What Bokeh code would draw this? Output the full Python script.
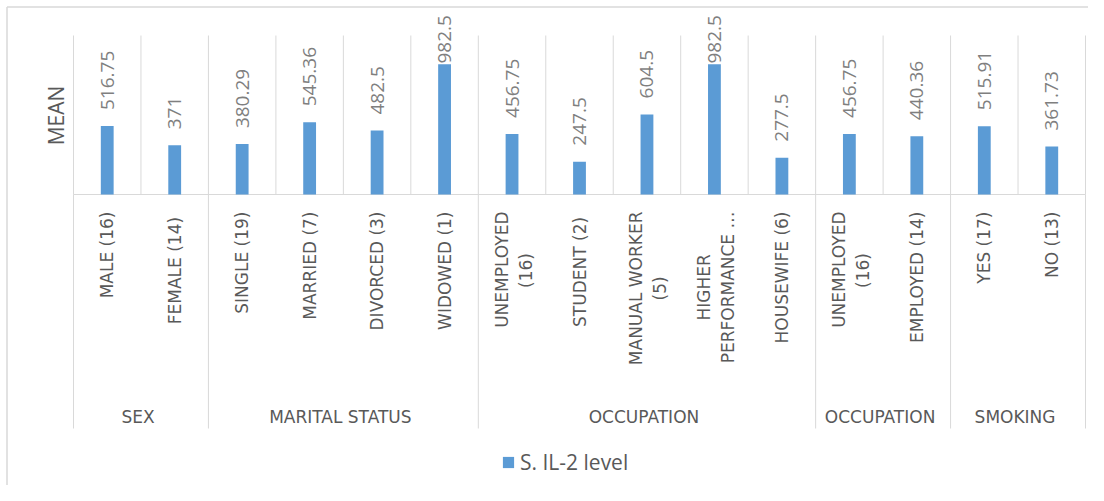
import math
from bokeh.plotting import figure
from bokeh.models import Range1d, ColumnDataSource
from bokeh.core.properties import value
from bokeh.embed import file_html
from bokeh.resources import INLINE

# ---------------- data ----------------
group_names = ["SEX", "MARITAL STATUS", "OCCUPATION", "OCCUPATION", "SMOKING"]
group_sizes = [2, 4, 5, 2, 2]
categories = [
    "MALE (16)", "FEMALE  (14)",
    "SINGLE (19)", "MARRIED (7)", "DIVORCED (3)", "WIDOWED (1)",
    "UNEMPLOYED\n(16)", "STUDENT  (2)", "MANUAL WORKER\n(5)", "HIGHER\nPERFORMANCE \u2026", "HOUSEWIFE (6)",
    "UNEMPLOYED\n(16)", "EMPLOYED (14)",
    "YES (17)", "NO (13)",
]
values = [516.75, 371, 380.29, 545.36, 482.5, 982.5,
          456.75, 247.5, 604.5, 982.5, 277.5,
          456.75, 440.36, 515.91, 361.73]
series_name = "S. IL-2 level"
y_title = "MEAN"
y_max = 1200

# ---------------- layout (screen pixels) ----------------
W, H = 1088, 485
PX0, PY0 = 0, 0
plot_left, plot_right = 73, 1085
base_px, top_px = 194, 35
n = len(categories)
unit = (plot_right - plot_left) / n
scale = (base_px - top_px) / y_max

p = figure(width=W, height=H, output_backend="svg", toolbar_location=None,
           x_axis_type=None, y_axis_type=None, min_border=0,
           x_range=Range1d((PX0 - plot_left) / unit, (PX0 + W - plot_left) / unit),
           y_range=Range1d(-(PY0 + H - base_px) / scale, (base_px - PY0) / scale))
p.extra_x_ranges = {"px": Range1d(PX0, PX0 + W)}
p.extra_y_ranges = {"px": Range1d(PY0 + H, PY0)}
p.grid.visible = False
p.outline_line_color = None
p.background_fill_color = "white"
p.border_fill_color = "white"

grid_c = "#d9d9d9"
# outer chart border (left & top visible)
p.segment(x0=[6.5, 6.5], y0=[6.5, 6.5], x1=[6.5, PX0 + W], y1=[PY0 + H, 6.5],
          line_color=grid_c, line_width=1.5, x_range_name="px", y_range_name="px")

# vertical category gridlines in plot area
bounds = list(range(n + 1))
p.segment(x0=bounds, y0=[0] * len(bounds), x1=bounds, y1=[y_max] * len(bounds),
          line_color=grid_c, line_width=1)
# baseline
p.segment(x0=[0], y0=[0], x1=[n], y1=[0], line_color=grid_c, line_width=1)

# group boundary lines in the label area
gb = [0]
for s in group_sizes:
    gb.append(gb[-1] + s)
gb_px = [plot_left + b * unit for b in gb]
p.segment(x0=gb_px, y0=[base_px] * len(gb_px), x1=gb_px, y1=[428] * len(gb_px),
          line_color=grid_c, line_width=1, x_range_name="px", y_range_name="px")

# bars
xs = [i + 0.5 for i in range(n)]
src = ColumnDataSource(dict(x=xs, top=values))
p.vbar(x="x", top="top", width=0.19, source=src, fill_color="#5b9bd5",
       line_color=None, legend_label=series_name)

# value labels (rotated), clamped to stay inside the chart
pad = 16 / scale
cap = (base_px - 63) / scale
lab_y = [min(v + pad, cap) for v in values]
p.text(x=xs, y=lab_y, text=[f"{v:g}" for v in values], angle=math.pi / 2,
       text_align="left", text_baseline="middle", text_font=value("Open Sans"),
       text_font_size="19px", text_color="#7f7f7f")

# category labels (rotated)
DV = {'A': .684, 'B': .686, 'C': .698, 'D': .770, 'E': .632, 'F': .575, 'G': .775,
      'H': .752, 'I': .295, 'J': .295, 'K': .656, 'L': .557, 'M': .863, 'N': .748,
      'O': .787, 'P': .603, 'Q': .787, 'R': .695, 'S': .635, 'T': .611, 'U': .732,
      'V': .684, 'W': .989, 'X': .685, 'Y': .611, 'Z': .685, ' ': .318, '(': .390,
      ')': .390, '.': .318, '\u2026': 1.0}
sub_size = 17

def tw(s):
    return sum(DV.get(c, .636) for c in s) * sub_size

lx, ly, lt, la = [], [], [], []
top_lab = 211
for i, c in enumerate(categories):
    cx = plot_left + (i + 0.5) * unit
    lines = c.split("\n")
    k = len(lines)
    if k == 1:
        lx.append(cx); ly.append(top_lab); lt.append(c); la.append("right")
    else:
        wmax = max(tw(s) for s in lines)
        for j, s in enumerate(lines):
            lx.append(cx + 1.5 + (j - (k - 1) / 2) * 24)
            if tw(s) == wmax:
                ly.append(top_lab); la.append("right")
            else:
                ly.append(top_lab + wmax / 2); la.append("center")
            lt.append(s)
p.text(x=lx, y=ly, text=lt, text_align=la, angle=math.pi / 2, text_baseline="middle",
       text_font=value("DejaVu Sans"), text_font_size=f"{sub_size}px", text_color="#595959",
       x_range_name="px", y_range_name="px")

# group labels
gx = [plot_left + (gb[j] + gb[j + 1]) / 2 * unit - 3 for j in range(len(group_names))]
p.text(x=gx, y=[416] * len(gx), text=group_names, text_align="center", text_baseline="middle",
       text_font=value("DejaVu Sans"), text_font_size="17px", text_color="#595959",
       x_range_name="px", y_range_name="px")

# y axis title
p.text(x=[55], y=[115], text=[y_title], angle=math.pi / 2, text_align="center",
       text_baseline="middle", text_font=value("Open Sans"), text_font_size="21px",
       text_color="#595959", x_range_name="px", y_range_name="px")

# legend
lg = p.legend[0]
lg.location = (501 - PX0, 9)
lg.orientation = "horizontal"
lg.border_line_color = None
lg.background_fill_alpha = 0
lg.padding = 0
lg.margin = 0
lg.glyph_width = 14
lg.glyph_height = 14
lg.label_standoff = 5
lg.label_text_font = "Open Sans"
lg.label_text_font_size = "21px"
lg.label_text_color = "#595959"
lg.label_height = 14

open("out.html", "w").write(file_html(p, INLINE))
